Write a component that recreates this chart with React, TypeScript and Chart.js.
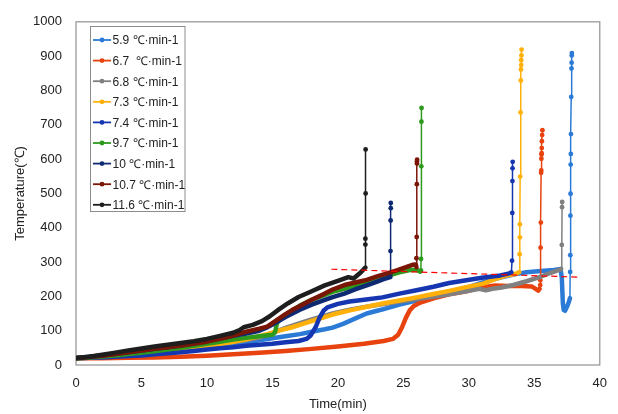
import React, { useEffect, useRef } from "react";
import { Chart, registerables } from "chart.js";

Chart.register(...registerables);

// X axis (min) and Y axis (°C) ticks
const xTicks = [0, 5, 10, 15, 20, 25, 30, 35, 40];
const yTicks = [0, 100, 200, 300, 400, 500, 600, 700, 800, 900, 1000];

// Series names
const seriesNames = [
  "5.9 ℃·min-1",
  "6.7  ℃·min-1",
  "6.8 ℃·min-1",
  "7.3 ℃·min-1",
  "7.4 ℃·min-1",
  "9.7 ℃·min-1",
  "10 ℃·min-1",
  "10.7 ℃·min-1",
  "11.6 ℃·min-1",
];

// ---- 5.9 ℃/min ----
const curve59: [number, number][] = [
  [0, 20], [1, 21], [2, 23], [3, 25], [4, 28], [5, 31], [6, 34], [7, 37], [8, 41], [9, 45],
  [10, 50], [11, 55], [12, 60], [13, 66], [14, 72], [15, 78], [16, 84], [17.1, 90], [18, 97],
  [19, 104], [19.6, 109], [20.4, 120], [21.3, 135], [22.2, 150], [23, 158], [23.5, 163],
  [24.7, 176], [26, 188], [27.3, 200], [28.5, 212], [29.8, 225], [31, 240], [32.4, 255],
  [33.5, 264], [34.4, 270], [35.5, 274], [36.5, 277], [37.0, 280], [37.1, 255], [37.18, 180],
  [37.25, 160], [37.35, 158], [37.5, 170], [37.65, 185], [37.72, 195],
];
const spike59: [number, number][] = [
  [37.74, 271], [37.75, 320], [37.76, 435], [37.77, 499], [37.78, 584], [37.79, 615],
  [37.8, 673], [37.82, 781], [37.84, 864], [37.85, 881], [37.86, 902], [37.87, 909],
];

// ---- 6.7 ℃/min ----
const curve67: [number, number][] = [
  [0, 20], [2, 20], [4, 21], [6, 22], [8, 24], [10, 27], [12, 31], [14, 36], [16, 41], [18, 47],
  [20, 54], [22, 62], [23.5, 70], [24.2, 76], [24.6, 88], [24.9, 110], [25.2, 138], [25.5, 160],
  [25.8, 172], [26.3, 182], [27.3, 194], [28.5, 206], [29.8, 215], [31, 226], [32, 232],
  [33, 230], [34, 230], [34.8, 229], [35.1, 222], [35.3, 217], [35.4, 222],
];
const spike67: [number, number][] = [
  [35.45, 233], [35.46, 247], [35.48, 342], [35.5, 415], [35.52, 560], [35.53, 567],
  [35.54, 601], [35.55, 613], [35.56, 617], [35.57, 632], [35.58, 652], [35.6, 670], [35.62, 684],
];

// ---- 6.8 ℃/min ----
const curve68: [number, number][] = [
  [0, 20], [1, 22], [2, 25], [3, 28], [4, 31], [5, 34], [6, 38], [7, 42], [8, 46], [9, 51],
  [10, 56], [11, 61], [12, 67], [13, 73], [14, 80], [15, 94], [16, 108], [17.1, 122], [18, 133],
  [19.6, 150], [21, 162], [22.2, 170], [23.5, 178], [24.7, 185], [26, 192], [27.3, 199],
  [28.5, 206], [29.8, 215], [30.8, 222], [31.3, 218], [31.8, 222], [32.5, 226], [33.4, 233],
  [34.4, 244], [35.4, 256], [36.2, 268], [36.9, 277], [37.05, 280],
];
const spike68: [number, number][] = [[37.1, 350], [37.12, 460], [37.13, 475]];

// ---- 7.3 ℃/min ----
const curve73: [number, number][] = [
  [0, 20], [1, 22], [2, 24], [3, 26], [4, 29], [5, 32], [6, 36], [7, 40], [8, 44], [9, 49],
  [10, 55], [11, 61], [12, 68], [13, 75], [14, 84], [14.6, 90], [15.5, 100], [16.5, 110],
  [17.5, 122], [18.5, 134], [19.6, 147], [21, 160], [22.5, 172], [23.5, 180], [24.7, 188],
  [26, 197], [27.3, 207], [28.5, 216], [29.8, 227], [31.1, 237], [32, 250], [32.9, 261],
  [33.6, 266], [33.85, 271],
];
const spike73: [number, number][] = [
  [33.88, 323], [33.9, 372], [33.9, 410], [33.92, 549], [33.95, 736], [33.97, 829],
  [33.98, 861], [34.0, 874], [34.0, 888], [34.02, 902], [34.03, 919],
];

// ---- 7.4 ℃/min ----
const curve74: [number, number][] = [
  [0, 20], [1, 21], [2, 22], [3, 24], [4, 26], [5, 28], [6, 31], [7, 34], [8, 37], [9, 41],
  [10, 45], [11, 49], [12, 52], [13, 56], [14, 59], [15, 62], [16, 66], [17, 70], [17.6, 76],
  [17.9, 85], [18.3, 110], [18.6, 138], [18.9, 158], [19.2, 168], [20, 178], [20.9, 185],
  [22, 190], [23.4, 197], [24.7, 208], [26, 218], [27.3, 228], [28.5, 239], [29.8, 247],
  [31, 254], [32.4, 261], [33.1, 267], [33.25, 270],
];
const spike74: [number, number][] = [
  [33.3, 304], [33.32, 443], [33.33, 536], [33.34, 573], [33.35, 592],
];

// ---- 9.7 ℃/min ----
const curve97: [number, number][] = [
  [0, 20], [1, 22], [2, 25], [3, 28], [4, 32], [5, 36], [6, 40], [7, 45], [8, 50], [9, 56],
  [10, 62], [11, 68], [12, 74], [13, 79], [14, 84], [15, 88], [15.2, 95], [15.35, 122],
  [15.6, 133], [16.3, 153], [17.1, 173], [18, 190], [19, 204], [19.6, 213], [20.5, 222],
  [21.3, 230], [22.2, 242], [23, 250], [23.8, 260], [24.7, 270], [25.5, 277], [26.0, 277],
  [26.3, 272],
];
const spike97: [number, number][] = [
  [26.34, 276], [26.35, 309], [26.37, 579], [26.38, 709], [26.39, 749],
];

// ---- 10 ℃/min ----
const curve10: [number, number][] = [
  [0, 20], [1, 24], [2, 28], [3, 32], [4, 37], [5, 42], [6, 47], [7, 52], [8, 57], [9, 63],
  [10, 70], [11, 77], [12, 85], [13, 92], [14, 100], [14.5, 108], [15, 118], [16, 140],
  [17.1, 161], [18, 176], [19, 190], [19.6, 198], [20.5, 208], [21.3, 220], [22.2, 232],
  [23, 243], [23.5, 250], [24, 256],
];
const spike10: [number, number][] = [
  [24.0, 261], [24.02, 332], [24.03, 421], [24.04, 457], [24.04, 472],
];

// ---- 10.7 ℃/min ----
const curve107: [number, number][] = [
  [0, 20], [1, 23], [2, 27], [3, 32], [4, 37], [5, 42], [6, 47], [7, 52], [8, 57], [9, 62],
  [10, 68], [11, 76], [12, 86], [13, 97], [14, 106], [14.6, 112], [15.3, 130], [16, 148],
  [16.5, 160], [17.1, 172], [18, 190], [19, 208], [19.6, 220], [20.5, 233], [21.5, 242],
  [22.2, 248], [23, 258], [23.7, 266], [24.5, 276], [25.2, 285], [25.7, 292], [25.95, 293],
  [26.0, 285],
];
const spike107: [number, number][] = [
  [26.0, 311], [26.02, 373], [26.03, 527], [26.04, 587], [26.04, 593], [26.05, 598],
];

// ---- 11.6 ℃/min ----
const curve116: [number, number][] = [
  [0, 20], [1, 24], [2, 30], [3, 36], [4, 42], [5, 48], [6, 54], [7, 59], [8, 64], [9, 69],
  [10, 76], [11, 85], [12, 94], [12.5, 102], [12.8, 110], [13.5, 117], [14.2, 128], [14.8, 142],
  [15.5, 162], [16.2, 180], [17, 198], [18, 215], [19, 232], [20, 245], [20.8, 256],
  [21.2, 252], [21.6, 265], [21.9, 276], [22.1, 284],
];
const spike116: [number, number][] = [
  [22.1, 351], [22.1, 368], [22.12, 500], [22.12, 628],
];

// Red dashed reference line
const refLine: [number, number][] = [[19.5, 279], [38.5, 256]];

const curves = [curve59, curve67, curve68, curve73, curve74, curve97, curve10, curve107, curve116];
const spikes = [spike59, spike67, spike68, spike73, spike74, spike97, spike10, spike107, spike116];
const colors = [
  "#2B7BD6", "#E8420E", "#808080", "#FFB10A", "#1536B0",
  "#2D9A1E", "#0E2A72", "#7A1606", "#1E1E1E",
];

const FONT = "'Liberation Sans', Arial, sans-serif";

export default function App() {
  const ref = useRef<HTMLCanvasElement | null>(null);

  useEffect(() => {
    if (!ref.current) return;

    const seriesDatasets = curves.map((curve, i) => {
      const n = curve.length;
      const pts = [...curve, ...spikes[i]].map(([x, y]) => ({ x, y }));
      return {
        label: seriesNames[i],
        data: pts,
        showLine: true,
        borderColor: colors[i],
        backgroundColor: colors[i],
        borderWidth: 4.5,
        borderCapStyle: "round" as const,
        borderJoinStyle: "round" as const,
        pointRadius: (ctx: any) => (ctx.dataIndex >= n ? 2.4 : 0),
        pointBorderWidth: 0,
        pointBackgroundColor: colors[i],
        segment: {
          borderWidth: (ctx: any) => (ctx.p1DataIndex >= n ? 1.5 : 4.5),
        },
      };
    });

    const dashed = {
      label: "ref",
      data: refLine.map(([x, y]) => ({ x, y })),
      showLine: true,
      borderColor: "#FF0000",
      borderWidth: 1.2,
      borderDash: [6, 4],
      pointRadius: 0,
    };

    // later legend entries draw on top (first dataset is drawn last in Chart.js)
    const datasets = [dashed, ...seriesDatasets.slice().reverse()];

    const framePlugin = {
      id: "frame",
      beforeDatasetsDraw(chart: any) {
        const { ctx, chartArea: a } = chart;
        ctx.save();
        ctx.strokeStyle = "#9A9A9A";
        ctx.lineWidth = 1.3;
        ctx.strokeRect(a.left, a.top, a.right - a.left, a.bottom - a.top);
        ctx.restore();
      },
    };

    const legendPlugin = {
      id: "customLegend",
      afterDraw(chart: any) {
        const ctx = chart.ctx;
        const bx = 90.5, by = 26.5, bw = 94.5, bh = 185;
        ctx.save();
        ctx.fillStyle = "#FFFFFF";
        ctx.fillRect(bx, by, bw, bh);
        ctx.strokeStyle = "#8C8C8C";
        ctx.lineWidth = 1;
        ctx.strokeRect(bx, by, bw, bh);
        ctx.font = `12px ${FONT}`;
        ctx.textBaseline = "middle";
        ctx.textAlign = "left";
        seriesNames.forEach((name, i) => {
          const y = 40 + i * 20.6;
          ctx.strokeStyle = colors[i];
          ctx.lineWidth = 1.8;
          ctx.beginPath();
          ctx.moveTo(93, y);
          ctx.lineTo(111, y);
          ctx.stroke();
          ctx.fillStyle = colors[i];
          ctx.beginPath();
          ctx.arc(102, y, 2.4, 0, Math.PI * 2);
          ctx.fill();
          ctx.fillStyle = "#222222";
          ctx.fillText(name, 112.5, y + 1);
        });
        ctx.restore();
      },
    };

    const chart = new Chart(ref.current, {
      type: "scatter",
      data: { datasets: datasets as any },
      options: {
        responsive: false,
        animation: false,
        devicePixelRatio: 1,
        layout: { padding: { top: 14, right: 18, left: 0, bottom: 0 } },
        plugins: {
          legend: { display: false },
          tooltip: { enabled: false },
        },
        scales: {
          x: {
            type: "linear",
            min: 0,
            max: 40,
            afterFit: (s: any) => { s.height = 49; },
            afterBuildTicks: (s: any) => { s.ticks = xTicks.map((v) => ({ value: v })); },
            grid: { display: false, drawTicks: false },
            border: { display: false },
            ticks: {
              padding: 11,
              color: "#222222",
              font: { family: FONT, size: 13 },
              callback: (v: any) => String(v),
            },
            title: {
              display: true,
              text: "Time(min)",
              color: "#222222",
              font: { family: FONT, size: 13 },
              padding: { top: 0, bottom: 2 },
            },
          },
          y: {
            type: "linear",
            min: 0,
            max: 1000,
            afterFit: (s: any) => { s.width = 76; },
            afterBuildTicks: (s: any) => { s.ticks = yTicks.map((v) => ({ value: v })); },
            grid: { display: false, drawTicks: false },
            border: { display: false },
            ticks: {
              padding: 14,
              color: "#222222",
              font: { family: FONT, size: 13 },
              callback: (v: any) => String(v),
            },
            title: {
              display: true,
              text: "Temperature(℃)",
              color: "#222222",
              font: { family: FONT, size: 13 },
              padding: { top: 13, bottom: 0 },
            },
          },
        },
      },
      plugins: [framePlugin, legendPlugin],
    });

    return () => chart.destroy();
  }, []);

  return (
    <div style={{ position: "fixed", left: 0, top: 0, width: 618, height: 414, background: "#fff" }}>
      <canvas ref={ref} width={618} height={414} style={{ display: "block" }} />
    </div>
  );
}
